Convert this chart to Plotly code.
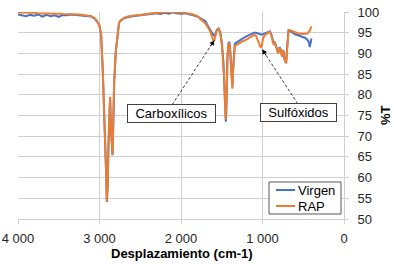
import plotly.graph_objects as go

wn = [4000, 3950, 3900, 3850, 3800, 3750, 3700, 3650, 3600, 3550, 3500, 3450, 3400, 3350,
      3300, 3250, 3200, 3150, 3100, 3060, 3030, 3000, 2980, 2960, 2950, 2940, 2930, 2920,
      2910, 2900, 2890, 2880, 2870, 2860, 2850, 2840, 2830, 2820, 2800, 2780, 2760, 2740,
      2700, 2650, 2600, 2550, 2500, 2450, 2400, 2350, 2300, 2250, 2200, 2150, 2100, 2050,
      2000, 1950, 1900, 1850, 1800, 1760, 1720, 1700, 1680, 1660, 1640, 1620, 1600, 1590,
      1580, 1560, 1540, 1520, 1500, 1480, 1470, 1460, 1455, 1450, 1445, 1440, 1430, 1420,
      1410, 1400, 1390, 1380, 1375, 1370, 1360, 1350, 1340, 1320, 1300, 1280, 1260, 1240,
      1220, 1200, 1180, 1160, 1140, 1120, 1100, 1080, 1060, 1040, 1030, 1020, 1010, 1000,
      990, 970, 950, 930, 910, 890, 870, 860, 850, 840, 830, 820, 810, 800, 790, 780, 770,
      760, 750, 740, 730, 720, 710, 700, 690, 680, 660, 640, 620, 600, 580, 560, 540, 520,
      500, 480, 460, 450, 440, 430, 420, 410, 400]

rap = [99.9, 99.9, 99.8, 99.8, 99.8, 99.7, 99.7, 99.7, 99.6, 99.6, 99.6, 99.5, 99.5, 99.5,
       99.4, 99.4, 99.3, 99.2, 99.0, 98.5, 97.8, 96.8, 94.5, 86.0, 80.0, 75.8, 73.0, 62.0,
       54.2, 58.0, 68.0, 75.0, 79.5, 72.0, 66.0, 65.5, 74.0, 83.0, 90.5, 95.0, 97.5, 98.0,
       98.6, 98.9, 99.1, 99.2, 99.3, 99.5, 99.6, 99.7, 99.8, 99.9, 100.0, 100.0, 100.0, 100.0,
       99.9, 99.8, 99.6, 99.4, 99.0, 98.3, 97.6, 97.2, 96.6, 96.0, 95.3, 94.0, 93.0, 93.3,
       94.2, 95.6, 95.9, 95.0, 92.5, 88.0, 84.0, 78.0, 75.5, 74.0, 76.0, 82.0, 89.0, 92.0,
       92.5, 91.5, 88.0, 84.0, 82.0, 81.5, 86.0, 90.0, 91.8, 92.0, 92.3, 92.4, 92.8, 93.0,
       93.1, 93.3, 93.6, 93.8, 94.1, 94.3, 94.5, 94.3, 93.5, 92.3, 91.7, 91.5, 91.8, 92.8,
       93.8, 94.4, 94.8, 95.0, 95.2, 94.2, 92.5, 92.0, 92.6, 91.8, 91.5, 91.0, 90.0, 90.3,
       91.3, 91.0, 89.5, 89.2, 90.6, 90.3, 88.5, 87.8, 87.6, 90.5, 94.3, 95.6, 95.6, 95.4,
       95.2, 95.0, 94.9, 94.8, 94.7, 94.8, 94.7, 94.7, 94.8, 94.8, 95.0, 95.2, 95.5, 96.0, 96.5]

virgen = [99.4, 99.2, 99.0, 99.3, 99.1, 99.4, 98.9, 99.3, 99.0, 99.2, 98.8, 99.3, 99.2, 99.4,
          99.3, 99.3, 99.2, 99.1, 98.9, 98.4, 97.7, 96.7, 94.4, 85.9, 79.9, 75.7, 72.9, 61.9,
          54.1, 57.9, 67.9, 74.9, 79.4, 71.9, 65.9, 65.4, 73.9, 82.9, 90.4, 94.9, 97.4, 97.9,
          98.5, 98.8, 99.0, 99.1, 99.2, 99.3, 99.4, 99.5, 99.7, 99.5, 99.8, 99.6, 99.9, 99.7,
          99.6, 99.7, 99.5, 99.2, 98.9, 98.5, 98.0, 97.8, 97.0, 96.3, 95.8, 94.9, 94.3, 94.3,
          94.6, 95.7, 96.0, 95.2, 92.8, 88.0, 84.0, 77.5, 75.0, 73.5, 75.5, 81.5, 89.0, 92.3,
          92.8, 92.0, 88.5, 84.5, 82.5, 82.0, 86.5, 90.5, 92.3, 92.6, 92.9, 93.1, 93.5, 93.7,
          93.9, 94.1, 94.3, 94.5, 94.8, 94.9, 95.0, 95.0, 94.8, 94.6, 94.5, 94.4, 94.5, 94.6,
          94.7, 94.8, 95.0, 95.1, 95.3, 94.5, 93.0, 92.4, 92.8, 92.0, 91.6, 91.0, 90.2, 90.5,
          91.5, 91.2, 89.6, 89.3, 90.8, 90.4, 88.6, 87.9, 87.7, 90.8, 94.6, 95.6, 95.4, 95.1,
          94.8, 94.6, 94.5, 94.3, 94.2, 94.0, 93.9, 93.8, 93.6, 93.3, 93.0, 92.6, 91.5, 92.8, 93.6]

x_tickvals = [4000, 3000, 2000, 1000, 0]
x_ticktext = ["4 000", "3 000", "2 000", "1 000", "0"]
y_tickvals = [50, 55, 60, 65, 70, 75, 80, 85, 90, 95, 100]

series_names = ["Virgen", "RAP"]
series_colors = ["#4472C4", "#ED7D31"]

# annotations: label, text-box centre, arrow tip, dashed line start
labels = ["Carboxílicos", "Sulfóxidos"]
label_x = [2115, 561]
label_y = [75.5, 75.7]
label_w = [85, 73]
tip_x = [1590, 1005]
tip_y = [93.2, 91.0]
line_x0 = [2109, 567]
line_y0 = [77.6, 77.8]

FONT = "Liberation Sans, Arial, sans-serif"
W, H = 394, 264
# plot area in page pixels
PL, PR, PT, PB = 18, 344, 12, 219
ML, MT = PL, PT
MR, MB = W - PR, H - PB
PW, PH = PR - PL, PB - PT


def px_x(p):
    return (p - PL) / PW


def px_y(p):
    return (PB - p) / PH


fig = go.Figure()
for name, vals, col in zip(series_names, [virgen, rap], series_colors):
    fig.add_trace(go.Scatter(x=wn, y=vals, mode="lines", name=name,
                             line=dict(color=col, width=2), showlegend=False))

for i in range(len(labels)):
    fig.add_shape(type="line", xref="x", yref="y", x0=line_x0[i], y0=line_y0[i],
                  x1=tip_x[i], y1=tip_y[i],
                  line=dict(color="#404040", width=1, dash="3px,2px"))
    fig.add_annotation(x=label_x[i], y=label_y[i], text=labels[i], showarrow=False,
                       font=dict(family=FONT, size=13, color="#000000"),
                       width=label_w[i], height=15, align="center",
                       bgcolor="white", bordercolor="#404040", borderwidth=1, borderpad=1)
    dx = tip_x[i] - line_x0[i]
    dy = tip_y[i] - line_y0[i]
    pxd = -dx * PW / 4000
    pyd = -dy * PH / 50
    norm = (pxd ** 2 + pyd ** 2) ** 0.5
    fig.add_annotation(x=tip_x[i], y=tip_y[i], text="", showarrow=True,
                       arrowhead=2, arrowsize=1, arrowwidth=1, arrowcolor="#000000",
                       ax=-pxd / norm * 9, ay=-pyd / norm * 9, standoff=0)

# custom legend
fig.add_shape(type="rect", xref="paper", yref="paper",
              x0=px_x(269), x1=px_x(341), y0=px_y(214), y1=px_y(182),
              line=dict(color="#595959", width=1), fillcolor="white", layer="above")
leg_rows = [190, 206]
for name, col, ry in zip(series_names, series_colors, leg_rows):
    fig.add_shape(type="line", xref="paper", yref="paper",
                  x0=px_x(276), x1=px_x(295), y0=px_y(ry), y1=px_y(ry),
                  line=dict(color=col, width=2), layer="above")
    fig.add_annotation(x=px_x(296), y=px_y(ry), xref="paper", yref="paper",
                       text=name, showarrow=False, xanchor="left", yanchor="middle",
                       font=dict(family=FONT, size=13, color="#000000"))

# axis titles
fig.add_annotation(x=px_x(182), y=px_y(253), xref="paper", yref="paper",
                   text="<b>Desplazamiento (cm-1)</b>", showarrow=False,
                   xanchor="center", yanchor="middle",
                   font=dict(family=FONT, size=13, color="#000000"))
fig.add_annotation(x=px_x(385), y=px_y(115), xref="paper", yref="paper",
                   text="<b>%T</b>", showarrow=False, textangle=-90,
                   xanchor="center", yanchor="middle",
                   font=dict(family=FONT, size=13, color="#000000"))

fig.update_layout(
    width=W, height=H,
    margin=dict(l=ML, r=MR, t=MT, b=MB),
    paper_bgcolor="white", plot_bgcolor="white",
    font=dict(family=FONT, size=13, color="#262626"),
    showlegend=False,
    xaxis=dict(range=[4000, 0], tickvals=x_tickvals, ticktext=x_ticktext,
               showgrid=True, gridcolor="#d0d0d0", gridwidth=1,
               showline=True, linecolor="#d0d0d0", linewidth=1,
               ticks="outside", ticklen=4, tickcolor="#d0d0d0",
               ticklabelstandoff=3, ticklabeloverflow="allow",
               zeroline=False, automargin=False,
               tickfont=dict(family=FONT, size=13, color="#262626")),
    yaxis=dict(range=[50, 100], side="right", tickvals=y_tickvals,
               showgrid=True, gridcolor="#d0d0d0", gridwidth=1,
               showline=True, linecolor="#d0d0d0", linewidth=1,
               ticks="outside", ticklen=4, tickcolor="#d0d0d0",
               ticklabelstandoff=6, ticklabeloverflow="allow",
               zeroline=False, automargin=False,
               tickfont=dict(family=FONT, size=13, color="#262626")),
)
fig.write_html("out.html", config={"displayModeBar": False},
               post_script="document.body.style.margin='0';document.body.style.overflow='hidden';")
